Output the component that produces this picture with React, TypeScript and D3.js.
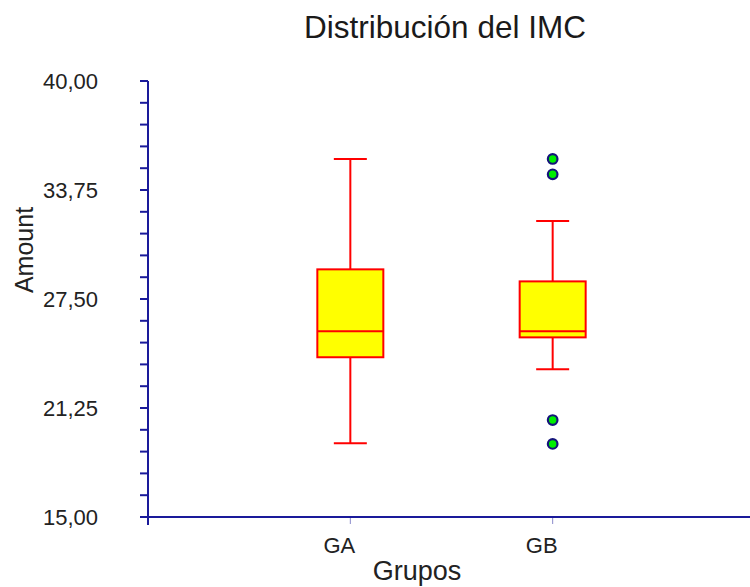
import React from "react";
import * as d3 from "d3";

const categories = ["GA", "GB"];
const whiskerLow = [19.23, 23.47];
const q1 = [24.16, 25.3];
const median = [25.65, 25.65];
const q3 = [29.2, 28.51];
const whiskerHigh = [35.53, 31.97];
const outlierGroup = ["GB", "GB", "GB", "GB"];
const outlierValue = [35.53, 34.65, 20.56, 19.19];
const majorTicks = [15, 21.25, 27.5, 33.75, 40];
const minorStep = 1.25;

const W = 750;
const H = 587;
const axisColor = "#1a1a9a";
const font = "'Liberation Sans', Arial, sans-serif";

export default function App() {
  const y = d3.scaleLinear().domain([15, 40]).range([517, 81]);
  const x = d3.scalePoint<string>().domain(["_l", ...categories, "_r"]).range([148, 755]);
  const minor = d3.range(15, 40 + 0.001, minorStep);
  const fmt = (v: number) => v.toFixed(2).replace(".", ",");
  const boxW = 66;
  const capW = 33;
  const x0 = 148;

  return (
    <svg width={W} height={H} style={{ position: "absolute", left: 0, top: 0, background: "#fff" }} fontFamily={font}>
      <rect width={W} height={H} fill="#fff" />
      <text x={445} y={38} textAnchor="middle" fontSize={31.5} fill="#1a1a1a">Distribución del IMC</text>

      {/* y axis */}
      <line x1={x0} x2={x0} y1={y(40)} y2={525} stroke={axisColor} strokeWidth={2} />
      {minor.map((v, i) => (
        <line key={"t" + i} x1={x0 - 8} x2={x0} y1={y(v)} y2={y(v)} stroke={axisColor} strokeWidth={2} />
      ))}
      {majorTicks.map((v) => (
        <text key={"l" + v} x={98} y={y(v) + 8} textAnchor="end" fontSize={22} fill="#222">{fmt(v)}</text>
      ))}
      <text transform={`translate(33,250) rotate(-90)`} textAnchor="middle" fontSize={25} fill="#222">Amount</text>

      {/* x axis */}
      <line x1={x0 - 8} x2={W} y1={y(15)} y2={y(15)} stroke={axisColor} strokeWidth={2} />
      {categories.map((c) => (
        <g key={"xc" + c}>
          <line x1={x(c)!} x2={x(c)!} y1={y(15)} y2={y(15) + 7} stroke={axisColor} strokeWidth={1} opacity={0.5} />
          <text x={x(c)! - 11} y={553} textAnchor="middle" fontSize={22} fill="#222">{c}</text>
        </g>
      ))}
      <text x={417} y={580} textAnchor="middle" fontSize={27} fill="#222">Grupos</text>

      {/* boxes */}
      {categories.map((c, i) => {
        const cx = x(c)!;
        return (
          <g key={"b" + c} stroke="#ff0000" strokeWidth={2}>
            <line x1={cx} x2={cx} y1={y(whiskerHigh[i])} y2={y(q3[i])} />
            <line x1={cx} x2={cx} y1={y(q1[i])} y2={y(whiskerLow[i])} />
            <line x1={cx - capW / 2} x2={cx + capW / 2} y1={y(whiskerHigh[i])} y2={y(whiskerHigh[i])} />
            <line x1={cx - capW / 2} x2={cx + capW / 2} y1={y(whiskerLow[i])} y2={y(whiskerLow[i])} />
            <rect x={cx - boxW / 2} y={y(q3[i])} width={boxW} height={y(q1[i]) - y(q3[i])} fill="#ffff00" />
            <line x1={cx - boxW / 2} x2={cx + boxW / 2} y1={y(median[i])} y2={y(median[i])} />
          </g>
        );
      })}

      {/* outliers */}
      {outlierValue.map((v, i) => (
        <circle key={"o" + i} cx={x(outlierGroup[i])!} cy={y(v)} r={4.8} fill="#00ee00" stroke="#14147a" strokeWidth={2.2} />
      ))}
    </svg>
  );
}
